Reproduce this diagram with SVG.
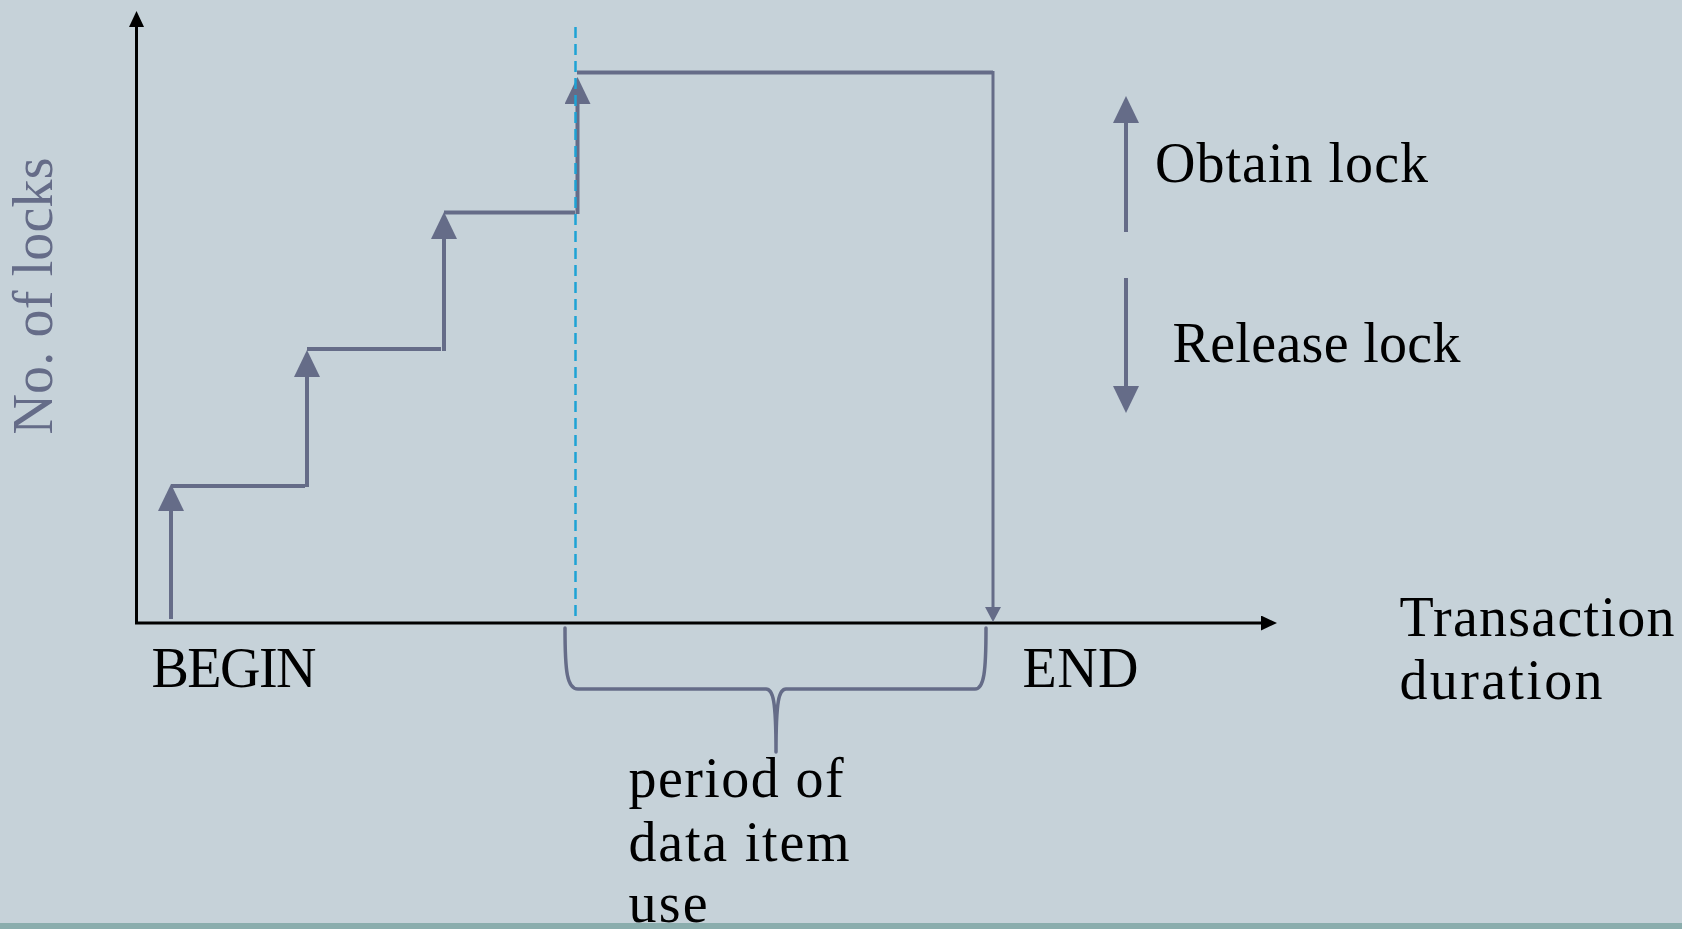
<svg xmlns="http://www.w3.org/2000/svg" width="1682" height="929" viewBox="0 0 1682 929">
  <style>
    .txt { font-family: "Liberation Serif", "Times New Roman", serif; font-size: 56px; fill: #000; }
    .axis { stroke: #000; stroke-width: 3; fill: none; }
    .step { stroke: #656c88; stroke-width: 4; fill: none; }
    .thin { stroke: #656c88; stroke-width: 3; fill: none; }
    .brace { stroke: #656c88; stroke-width: 3.5; fill: none; stroke-linecap: round; stroke-linejoin: round; }
    .guide { stroke: #1ea3d5; stroke-width: 2.5; stroke-dasharray: 11 6; fill: none; }
  </style>
  <defs>
    <marker id="headAxis" viewBox="0 0 16 15" refX="1" refY="7.5" markerWidth="16" markerHeight="15" markerUnits="userSpaceOnUse" orient="auto">
      <path d="M0,0 L16,7.5 L0,15 z" fill="#000"/>
    </marker>
    <marker id="headStep" viewBox="0 0 27 26" refX="1" refY="13" markerWidth="27" markerHeight="26" markerUnits="userSpaceOnUse" orient="auto">
      <path d="M0,0 L27,13 L0,26 z" fill="#656c88"/>
    </marker>
    <marker id="headSmall" viewBox="0 0 15 16" refX="1" refY="8" markerWidth="15" markerHeight="16" markerUnits="userSpaceOnUse" orient="auto">
      <path d="M0,0 L15,8 L0,16 z" fill="#656c88"/>
    </marker>
  </defs>

  <!-- background -->
  <rect x="0" y="0" width="1682" height="929" fill="#c6d2d9"/>
  <rect x="0" y="923" width="1682" height="6" fill="#8aadad"/>

  <!-- axes -->
  <g id="axes">
    <line class="axis" x1="136.5" y1="623" x2="136.5" y2="26" marker-end="url(#headAxis)"/>
    <line class="axis" x1="135" y1="623" x2="1262" y2="623" marker-end="url(#headAxis)"/>
  </g>

  <!-- lock count staircase -->
  <g id="connectors">
    <line class="step" x1="171" y1="619" x2="171" y2="510" marker-end="url(#headStep)"/>
    <line class="step" x1="171" y1="486" x2="305" y2="486"/>
    <line class="step" x1="307" y1="487" x2="307" y2="376" marker-end="url(#headStep)"/>
    <line class="step" x1="307" y1="349" x2="441" y2="349"/>
    <line class="step" x1="444" y1="351" x2="444" y2="238" marker-end="url(#headStep)"/>
    <line class="step" x1="444" y1="212.5" x2="575" y2="212.5"/>
    <line class="step" x1="577.5" y1="214" x2="577.5" y2="103" marker-end="url(#headStep)"/>
    <line class="step" x1="577" y1="72.5" x2="993" y2="72.5"/>
    <line class="thin" x1="993" y1="71" x2="993" y2="608" marker-end="url(#headSmall)"/>
    <line class="guide" x1="575.5" y1="27" x2="575.5" y2="622"/>
    <path class="brace" d="M565,628 C565,672 567,689 578,689 L766,689 C773,689 776,700 776,752 C776,700 779,689 786,689 L975,689 C984,689 986,672 986,628"/>
  </g>

  <!-- legend -->
  <g id="legend-obtain">
    <line class="step" x1="1126" y1="232" x2="1126" y2="122" marker-end="url(#headStep)"/>
    <text class="txt" x="1155" y="182" textLength="273">Obtain lock</text>
  </g>
  <g id="legend-release">
    <line class="step" x1="1126" y1="278" x2="1126" y2="387" marker-end="url(#headStep)"/>
    <text class="txt" x="1172.5" y="361.5" textLength="288">Release lock</text>
  </g>

  <!-- labels -->
  <g id="label-ylabel">
    <text class="txt" transform="translate(52,296) rotate(-90)" text-anchor="middle" textLength="277" style="fill:#656c88">No. of locks</text>
  </g>
  <g id="label-begin">
    <text class="txt" x="151.5" y="686.5" textLength="165">BEGIN</text>
  </g>
  <g id="label-end">
    <text class="txt" x="1022.5" y="686.5" textLength="116">END</text>
  </g>
  <g id="label-xlabel">
    <text class="txt" x="1399.5" y="636" textLength="275">Transaction</text>
    <text class="txt" x="1399.5" y="698.5" textLength="203">duration</text>
  </g>
  <g id="label-period">
    <text class="txt" x="628.6" y="797" textLength="215">period of</text>
    <text class="txt" x="628.6" y="860.5" textLength="221">data item</text>
    <text class="txt" x="628.6" y="922" textLength="79">use</text>
  </g>
</svg>
